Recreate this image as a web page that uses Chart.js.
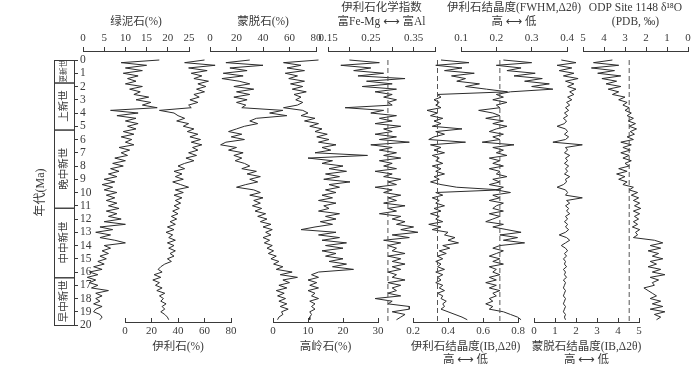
<!DOCTYPE html>
<html lang="zh">
<head>
<meta charset="UTF-8">
<title>粘土矿物与 ODP 1148 δ18O</title>
<script src="https://cdn.jsdelivr.net/npm/chart.js@4.4.1/dist/chart.umd.min.js"></script>
<style>
  html, body { margin: 0; padding: 0; background: #fff; }
  #wrap { position: relative; width: 700px; height: 370px; }
  #wrap canvas { position: absolute; left: 0; top: 0; }
</style>
</head>
<body>
<div id="wrap"></div>
<script>
// age (Ma) of every sample, shared by all curves
const ages = [0,0.2,0.4,0.6,0.8,1,1.2,1.4,1.6,1.8,2,2.2,2.4,2.6,2.8,3,3.2,3.4,3.6,3.8,
  4,4.2,4.4,4.6,4.8,5,5.2,5.4,5.6,5.8,6,6.2,6.4,6.6,6.8,7,7.2,7.4,7.6,7.8,
  8,8.2,8.4,8.6,8.8,9,9.2,9.4,9.6,9.8,10,10.2,10.4,10.6,10.8,11,11.2,11.4,11.6,11.8,
  12,12.2,12.4,12.6,12.8,13,13.2,13.4,13.6,13.8,14,14.2,14.4,14.6,14.8,15,15.2,15.4,15.6,15.8,
  16,16.2,16.4,16.6,16.8,17,17.2,17.4,17.6,17.8,18,18.2,18.4,18.6,18.8,19,19.2,19.4,19.6];

const chlorite = [18,9,15,10,14,9.5,13,10.5,12.5,10,
  14,11,13.5,12,15.5,12.5,16,14,17.5,6.5,
  13,8,12.5,10,13,10.5,12.5,9.5,12,9,
  11.5,10,12,8.5,11,9,10.5,7.5,10,7,
  9.5,6.5,8.5,6,8,5,7.5,4.5,7,5,
  8,5.5,7.5,5.5,8,6,8.5,5.5,8,6,
  9,5,10,4,7,3,6.5,4,7.5,10,
  5,6.5,4.5,6,4,5.5,3.5,5,2.5,4.5,
  1.5,3.5,1,3,1.5,3.5,2,6,3,4.5,
  3,4,2.5,4.5,3,2.5,4,4.5,4];

const illite = [60,45,68,48,62,50,58,52,63,55,
  61,54,60,52,56,49,55,48,50,26,
  37,40,45,39,48,44,52,47,55,49,
  57,50,58,51,55,48,54,46,52,45,
  40,45,37,43,38,44,36,42,48,38,
  44,37,43,38,42,37,41,36,40,35,
  39,34,38,32,37,31,36,33,38,32,
  37,33,38,34,37,32,35,30,27,25,
  28,22,27,21,26,23,28,24,30,26,
  29,27,31,28,30,27,30,32,33];

const smectite = [30,12,40,15,28,10,25,9,22,30,
  18,33,20,30,18,28,20,27,24,55,
  45,58,35,30,36,26,20,14,24,16,
  26,12,8,20,14,25,18,24,19,26,
  30,24,35,28,38,30,36,27,20,33,
  38,30,40,33,38,32,39,34,42,36,
  43,38,46,40,47,42,46,40,45,41,
  47,43,48,44,50,46,52,48,55,50,
  62,53,66,55,60,52,58,50,56,51,
  57,52,58,53,59,54,55,52,51];

const kaolinite = [13,3,8,4,9,3.5,7,4.5,9,5,
  8.5,5.5,9.5,6,8,6.5,8.5,7,3,8.5,
  10,8,12,9,13,10.5,14,12,15.5,12.5,
  16,13,18,14,16.5,12,27,10,17,14,
  20,16,21,15,19,14.5,22,16,19,15,
  18,14,17,13,18,14.5,16,13,19,15,
  18,13.5,17,12,8,18,13,19,14,21,
  15,20,14,18,15,20,16,21,17,23,
  13,11,13,10,12.5,10.5,13,10,12,11,
  13,10.5,12,11,12,10.5,11,10.5,10.5];

const chemIndex = [0.20,0.27,0.18,0.25,0.21,0.28,0.22,0.33,0.24,0.30,
  0.23,0.31,0.26,0.30,0.28,0.31,0.29,0.30,0.19,0.28,
  0.25,0.31,0.27,0.30,0.26,0.32,0.28,0.30,0.26,0.31,
  0.27,0.34,0.25,0.30,0.27,0.31,0.28,0.32,0.27,0.30,
  0.28,0.31,0.26,0.30,0.28,0.32,0.29,0.31,0.26,0.30,
  0.28,0.32,0.29,0.31,0.28,0.33,0.29,0.31,0.27,0.32,
  0.30,0.33,0.31,0.35,0.32,0.36,0.30,0.34,0.28,0.32,
  0.29,0.31,0.30,0.33,0.29,0.32,0.30,0.33,0.30,0.32,
  0.29,0.31,0.30,0.33,0.29,0.32,0.30,0.31,0.29,0.32,
  0.26,0.30,0.29,0.34,0.34,0.30,0.33,0.32,0.31];

const illiteIB = [0.36,0.52,0.33,0.48,0.38,0.55,0.42,0.50,0.45,0.58,
  0.50,0.62,0.74,0.34,0.36,0.32,0.35,0.33,0.36,0.28,
  0.34,0.30,0.37,0.32,0.36,0.31,0.48,0.33,0.38,0.32,
  0.29,0.50,0.30,0.36,0.32,0.38,0.31,0.35,0.33,0.37,
  0.31,0.36,0.33,0.38,0.32,0.35,0.30,0.36,0.45,0.70,
  0.33,0.37,0.31,0.35,0.33,0.38,0.32,0.36,0.30,0.35,
  0.33,0.37,0.29,0.36,0.31,0.40,0.38,0.44,0.40,0.46,
  0.37,0.41,0.35,0.39,0.34,0.37,0.33,0.36,0.34,0.38,
  0.33,0.37,0.34,0.36,0.33,0.37,0.35,0.38,0.34,0.37,
  0.36,0.39,0.37,0.38,0.36,0.40,0.44,0.48,0.51];

const illiteFWHM = [0.22,0.30,0.20,0.27,0.23,0.31,0.25,0.33,0.28,0.35,
  0.30,0.36,0.24,0.20,0.22,0.19,0.23,0.20,0.21,0.15,
  0.19,0.21,0.17,0.22,0.19,0.23,0.20,0.18,0.22,0.19,
  0.21,0.16,0.25,0.19,0.22,0.20,0.23,0.18,0.21,0.19,
  0.22,0.18,0.21,0.20,0.23,0.19,0.21,0.18,0.22,0.20,
  0.24,0.19,0.21,0.18,0.22,0.20,0.19,0.22,0.18,0.21,
  0.19,0.17,0.22,0.19,0.23,0.27,0.21,0.26,0.22,0.28,
  0.21,0.19,0.22,0.20,0.18,0.21,0.19,0.22,0.18,0.20,
  0.19,0.21,0.18,0.20,0.17,0.20,0.18,0.21,0.19,0.20,
  0.18,0.19,0.17,0.19,0.18,0.22,0.24,0.26,0.27];

const smectiteIB = [1.3,2.0,1.1,1.8,1.2,1.9,1.4,2.1,1.5,1.9,
  1.6,2.0,1.7,1.9,1.6,1.8,1.55,1.7,1.5,1.65,
  1.45,1.6,1.4,1.55,1.45,1.1,1.5,1.6,1.45,1.65,
  1.5,0.9,2.3,1.5,1.6,1.45,1.7,1.5,1.6,1.45,
  1.65,1.5,1.6,1.45,1.7,1.5,1.55,1.4,1.1,1.5,
  1.6,1.5,2.3,1.55,1.7,1.5,1.65,1.55,1.7,1.5,
  1.6,1.45,1.6,1.5,1.65,1.5,1.2,1.55,1.7,1.5,
  1.3,1.5,1.6,1.45,1.55,1.4,1.5,1.45,1.55,1.4,
  1.5,1.45,1.55,1.4,1.5,1.45,1.4,1.5,1.45,1.4,
  1.5,1.45,1.4,1.5,1.45,1.4,1.5,1.45,1.5];

const d18O = [3.6,4.5,3.3,4.6,3.5,4.3,3.2,4.1,3.4,3.9,
  3.2,3.8,3.3,3.6,3.0,3.3,2.9,3.1,2.8,3.0,
  2.7,2.9,2.6,2.85,2.5,2.8,2.45,2.75,2.55,2.9,
  2.6,3.2,2.7,3.1,2.75,3.2,2.8,3.1,2.7,3.0,
  2.8,3.3,2.9,3.4,3.0,3.3,2.9,3.1,2.6,2.8,
  2.4,2.7,2.35,2.6,2.3,2.55,2.25,2.6,2.3,2.55,
  2.35,2.6,2.4,2.65,2.3,2.5,2.4,2.6,1.6,1.2,
  1.8,1.3,1.9,1.4,1.7,1.2,1.8,1.5,1.9,1.3,
  1.7,1.1,1.8,1.4,1.7,1.6,2.1,1.9,1.7,1.5,
  1.8,1.3,1.7,1.2,1.8,1.1,1.6,1.3,1.5];

// dashed reference values and the age span they cover
const refChem = 0.29, refIB = 0.34, refFWHM = 0.21, refD18O = 2.8;
const refSpan = [0, 19.7];

// epochs on the age axis
const epochNames = ['更新世', '上新世', '晚中新世', '中中新世', '早中新世'];
const epochBounds = [0, 1.7, 5.25, 11.15, 16.4, 20];
const ageTicks = [0,1,2,3,4,5,6,7,8,9,10,11,12,13,14,15,16,17,18,19,20];

const LINE = '#2c2c2c';
const INK = '#3a3a3a';
const FONT = '"Liberation Serif", "Noto Sans CJK SC", "DejaVu Sans", serif';

Chart.defaults.font.family = FONT;
Chart.defaults.color = INK;
Chart.defaults.animation = false;

function newCanvas() {
    const c = document.createElement('canvas');
    c.width = 700;
    c.height = 370;
    document.getElementById('wrap').appendChild(c);
    return c;
}

// titles are drawn centred on the axis, without the scale's width limit
const axisTitle = {
    id: 'axisTitle',
    afterDraw(chart, args, opts) {
        const s = chart.scales.x;
        const ctx = chart.ctx;
        ctx.save();
        ctx.fillStyle = INK;
        ctx.font = opts.size + 'px ' + FONT;
        ctx.textAlign = 'center';
        ctx.textBaseline = 'middle';
        opts.lines.forEach((t, i) => ctx.fillText(t, (s.left + s.right) / 2, opts.ys[i]));
        ctx.restore();
    }
};

function line(values, dash) {
    return {
        data: values.map((v, i) => ({x: v, y: ages[i]})),
        showLine: true,
        pointRadius: 0,
        borderWidth: 1,
        borderColor: LINE,
        borderDash: [],
        clip: false
    };
}

function refLine(v) {
    return {
        data: refSpan.map(a => ({x: v, y: a})),
        showLine: true,
        pointRadius: 0,
        borderWidth: 1,
        borderColor: '#555',
        borderDash: [5, 3],
        clip: false
    };
}

function panel(p) {
    const top = p.side === 'top';
    const two = p.title.length > 1;
    new Chart(newCanvas(), {
        type: 'scatter',
        data: {datasets: p.datasets},
        options: {
            responsive: false,
            devicePixelRatio: 1,
            events: [],
            layout: {padding: {left: p.left, right: 700 - p.right, top: top ? 0 : 51, bottom: top ? 48 : 0}},
            plugins: {
                legend: {display: false},
                tooltip: {enabled: false},
                axisTitle: {
                    lines: p.title,
                    size: 11.5,
                    ys: top ? (two ? [8, 22] : [22]) : (two ? [347, 360] : [347])
                }
            },
            scales: {
                y: {type: 'linear', display: false, reverse: true, min: -0.68, max: 19.77},
                x: {
                    type: 'linear',
                    position: p.side,
                    min: p.min,
                    max: p.max,
                    reverse: !!p.reverse,
                    afterBuildTicks: s => { s.ticks = p.ticks.map(v => ({value: v})); },
                    afterFit: s => { s.height = top ? 51 : 48; },
                    border: {color: INK, width: 1},
                    grid: {drawOnChartArea: false, color: INK, tickLength: top ? 4 : -4},
                    ticks: {
                        autoSkip: false,
                        maxRotation: 0,
                        padding: top ? 2.4 : 6.4,
                        font: {size: 11},
                        callback: p.label || (v => String(v))
                    }
                }
            }
        },
        plugins: [axisTitle]
    });
}

// age axis with epoch boxes
const epochBoxes = {
    id: 'epochBoxes',
    afterDraw(chart) {
        const {ctx, chartArea: a} = chart;
        const y = chart.scales.y;
        ctx.save();
        ctx.strokeStyle = INK;
        ctx.fillStyle = INK;
        ctx.lineWidth = 1;
        epochNames.forEach((name, i) => {
            const y1 = y.getPixelForValue(epochBounds[i]);
            const y2 = y.getPixelForValue(epochBounds[i + 1]);
            ctx.strokeRect(a.left + 0.5, y1 + 0.5, a.right - a.left, y2 - y1);
            ctx.save();
            ctx.translate((a.left + a.right) / 2, (y1 + y2) / 2);
            ctx.rotate(-Math.PI / 2);
            ctx.font = (i === 0 ? 7.5 : 10.5) + 'px ' + FONT;
            ctx.textAlign = 'center';
            ctx.textBaseline = 'middle';
            ctx.fillText(name, 0, 0);
            ctx.restore();
        });
        ctx.restore();
    }
};

new Chart(newCanvas(), {
    type: 'scatter',
    data: {datasets: []},
    options: {
        responsive: false,
        devicePixelRatio: 1,
        events: [],
        layout: {padding: {left: 30, right: 596, top: 60, bottom: 45}},
        plugins: {legend: {display: false}, tooltip: {enabled: false}},
        scales: {
            x: {type: 'linear', display: false},
            yl: {
                type: 'linear', position: 'left', min: 0, max: 20,
                ticks: {display: false}, grid: {display: false}, border: {display: false},
                title: {display: true, text: '年代(Ma)', font: {size: 12}, padding: {top: 4, bottom: 0}},
                afterFit: s => { s.width = 24; }
            },
            y: {
                type: 'linear', position: 'right', min: 0, max: 20, reverse: true,
                afterBuildTicks: s => { s.ticks = ageTicks.map(v => ({value: v})); },
                ticks: {autoSkip: false, padding: 2, font: {size: 11.5}},
                grid: {drawOnChartArea: false, tickLength: 4, color: INK},
                border: {color: INK},
                afterFit: s => { s.width = 30; }
            }
        }
    },
    plugins: [epochBoxes]
});

panel({side: 'top', left: 83, right: 189, min: 0, max: 25, ticks: [0,5,10,15,20,25],
    title: ['绿泥石(%)'], datasets: [line(chlorite)]});
panel({side: 'bottom', left: 125, right: 231, min: 0, max: 80, ticks: [0,20,40,60,80],
    title: ['伊利石(%)'], datasets: [line(illite)]});
panel({side: 'top', left: 210, right: 316, min: 0, max: 80, ticks: [0,20,40,60,80],
    title: ['蒙脱石(%)'], datasets: [line(smectite)]});
panel({side: 'bottom', left: 273, right: 378, min: 0, max: 30, ticks: [0,10,20,30],
    title: ['高岭石(%)'], datasets: [line(kaolinite)]});
panel({side: 'top', left: 328, right: 435, min: 0.15, max: 0.40, ticks: [0.15,0.2,0.25,0.3,0.35,0.4],
    label: v => ([0.15, 0.25, 0.35].some(t => Math.abs(t - v) < 1e-6) ? v.toFixed(2) : ''),
    title: ['伊利石化学指数', '富Fe-Mg ⟷ 富Al'], datasets: [refLine(refChem), line(chemIndex)]});
panel({side: 'bottom', left: 413, right: 518, min: 0.2, max: 0.8, ticks: [0.2,0.4,0.6,0.8],
    title: ['伊利石结晶度(IB,Δ2θ)', '高 ⟷ 低'], datasets: [refLine(refIB), line(illiteIB)]});
panel({side: 'top', left: 461, right: 567, min: 0.1, max: 0.4, ticks: [0.1,0.2,0.3,0.4],
    title: ['伊利石结晶度(FWHM,Δ2θ)', '高 ⟷ 低'], datasets: [refLine(refFWHM), line(illiteFWHM)]});
panel({side: 'bottom', left: 534, right: 639, min: 0, max: 5, ticks: [0,1,2,3,4,5],
    title: ['蒙脱石结晶度(IB,Δ2θ)', '高 ⟷ 低'], datasets: [line(smectiteIB)]});
panel({side: 'top', left: 583, right: 688, min: 0, max: 5, reverse: true, ticks: [0,1,2,3,4,5],
    title: ['ODP Site 1148 δ¹⁸O', '(PDB, ‰)'], datasets: [refLine(refD18O), line(d18O)]});
</script>
</body>
</html>
